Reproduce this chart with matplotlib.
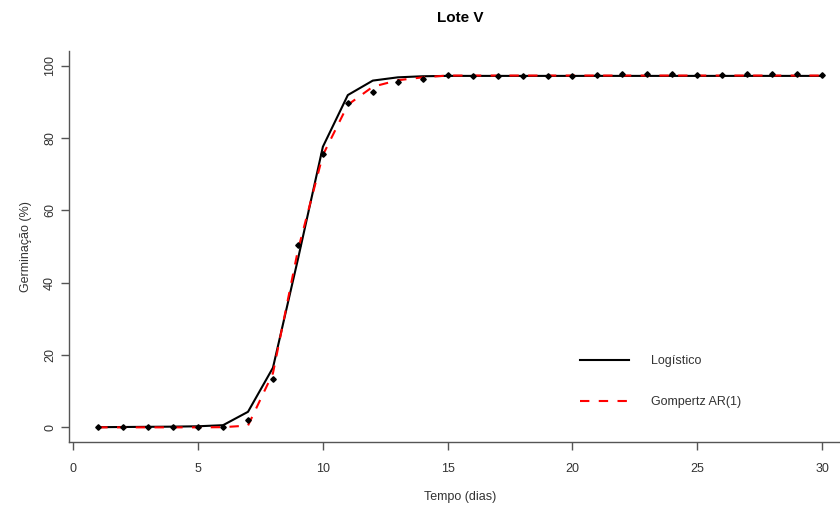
import numpy as np
import matplotlib.pyplot as plt

plt.rcParams['font.family'] = ['Liberation Sans', 'DejaVu Sans']

# dados
dias = np.arange(1, 31)
observado = [0, 0, 0, 0, 0, 0, 2.0, 13.4, 50.4, 75.5, 89.8, 92.7, 95.6, 96.3,
             97.4, 97.3, 97.3, 97.3, 97.3, 97.3, 97.4, 97.6, 97.6, 97.6, 97.5,
             97.5, 97.6, 97.6, 97.6, 97.5]
logistico = [0.05, 0.1, 0.15, 0.2, 0.3, 0.6, 4.3, 16.5, 46.5, 77.6, 91.9, 95.9,
             96.8, 97.1, 97.2, 97.2, 97.2, 97.2, 97.2, 97.2, 97.2, 97.2, 97.2,
             97.2, 97.2, 97.2, 97.2, 97.2, 97.2, 97.2]
gompertz = [0, 0, 0, 0, 0, 0.05, 0.5, 15.0, 49.0, 75.3, 89.2, 94.2, 96.0, 96.8,
            97.3, 97.3, 97.3, 97.3, 97.3, 97.3, 97.3, 97.3, 97.3, 97.3, 97.3,
            97.3, 97.3, 97.3, 97.3, 97.3]

cinza = '#555555'
texto = '#333333'

fig = plt.figure(figsize=(8.4, 5.05), dpi=100)
ax = fig.add_axes([0.0825, 0.1251, 0.9306, 0.7733])

ax.plot(dias, logistico, color='black', lw=1.5, label='Logístico')
ax.plot(dias, gompertz, color='red', lw=1.5, linestyle=(0, (4.5, 4.5)),
        label='Gompertz AR(1)')
ax.plot(dias, observado, 'D', color='black', markersize=2.8, linestyle='none')

ax.set_xlim(-0.16, 31.16)
ax.set_ylim(-4, 104)
ax.set_xticks([0, 5, 10, 15, 20, 25, 30])
ax.set_yticks([0, 20, 40, 60, 80, 100])
ax.set_yticklabels(['0', '20', '40', '60', '80', '100'], rotation=90, va='center')

for s in ['top', 'right']:
    ax.spines[s].set_visible(False)
for s in ['left', 'bottom']:
    ax.spines[s].set_color(cinza)
    ax.spines[s].set_linewidth(1.0)
ax.tick_params(colors=cinza, labelcolor=texto, length=6, width=1.0,
               labelsize=9)
ax.tick_params(axis='x', pad=9)
ax.tick_params(axis='y', pad=3.5)

ax.set_title('Lote V', fontsize=11, fontweight='bold', color='black', pad=21)
ax.set_xlabel('Tempo (dias)', fontsize=9, color=texto, labelpad=12)
ax.set_ylabel('Germinação (%)', fontsize=9, color=texto, labelpad=9)

# legenda sem moldura, como no original
handles, labels = ax.get_legend_handles_labels()
fig.legend(handles, labels, loc='upper left', bbox_to_anchor=(580 / 840, 1 - 355 / 505),
           frameon=False, fontsize=9, handlelength=3.9, handletextpad=1.8,
           labelspacing=2.35, borderpad=0, borderaxespad=0, labelcolor=texto)

plt.savefig('out.png', dpi=100)
